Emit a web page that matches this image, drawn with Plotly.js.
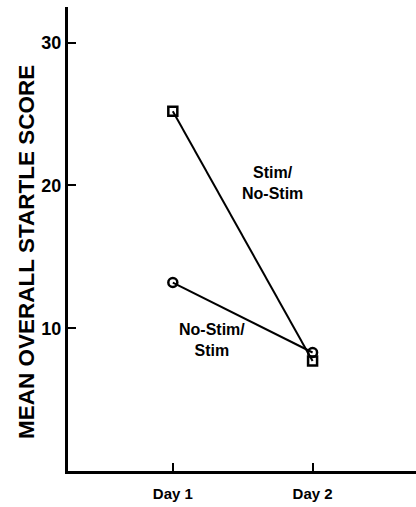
<!DOCTYPE html>
<html>
<head>
<meta charset="utf-8">
<script src="https://cdn.plot.ly/plotly-3.0.1.min.js"></script>
<style>
html,body{margin:0;padding:0;background:#fff;}
#chart{width:416px;height:507px;}
</style>
</head>
<body>
<div id="chart"></div>
<script>
// Data
const days = ["Day 1", "Day 2"];
const stimNoStim = [25.2, 7.7];   // squares
const noStimStim = [13.2, 8.3];   // circles
const yTickVals = [10, 20, 30];
const yTickText = ["10", "20", "30"];
const yTitle = "MEAN OVERALL STARTLE SCORE";
const groupLabels = ["Stim/<br>No-Stim", "No-Stim/<br>Stim"];

const FONT = "Liberation Sans, Arial, sans-serif";
const b = s => "<b>" + s + "</b>";

const traces = [
  {
    x: days, y: stimNoStim, type: "scatter", mode: "lines+markers",
    name: "Stim/No-Stim",
    line: {color: "#000", width: 2},
    marker: {symbol: "square-open", size: 9, color: "#000", line: {width: 2.5, color: "#000"}},
    cliponaxis: false
  },
  {
    x: days, y: noStimStim, type: "scatter", mode: "lines+markers",
    name: "No-Stim/Stim",
    line: {color: "#000", width: 2},
    marker: {symbol: "circle-open", size: 9, color: "#000", line: {width: 2.5, color: "#000"}},
    cliponaxis: false
  }
];

const layout = {
  width: 416, height: 507,
  margin: {l: 68, r: 0, t: 7, b: 36},
  paper_bgcolor: "#fff", plot_bgcolor: "#fff",
  showlegend: false,
  font: {family: FONT, color: "#000"},
  xaxis: {
    type: "category",
    categoryarray: days,
    tickvals: days, ticktext: days.map(b),
    range: [-0.75, 1.74],
    showgrid: false, zeroline: false,
    showline: true, linecolor: "#000", linewidth: 3,
    ticks: "inside", ticklen: 8, tickwidth: 2, tickcolor: "#000",
    tickfont: {family: FONT, size: 15, color: "#000"},
    ticklabelstandoff: 7
  },
  yaxis: {
    range: [0, 32.5],
    tickvals: yTickVals, ticktext: yTickText.map(b),
    showgrid: false, zeroline: false,
    showline: true, linecolor: "#000", linewidth: 3,
    ticks: "inside", ticklen: 8, tickwidth: 2, tickcolor: "#000",
    tickfont: {family: FONT, size: 18, color: "#000"},
    ticklabelstandoff: 0
  },
  annotations: [
    {x: -0.118, y: 0.472, xref: "paper", yref: "paper", text: b(yTitle), showarrow: false,
     textangle: -90, xanchor: "center", yanchor: "middle",
     font: {family: FONT, size: 22.5, color: "#000"}},
    {x: 0.71, y: 20.2, xref: "x", yref: "y", text: b(groupLabels[0]), showarrow: false,
     font: {family: FONT, size: 16, color: "#000"}, align: "center"},
    {x: 0.28, y: 9.2, xref: "x", yref: "y", text: b(groupLabels[1]), showarrow: false,
     font: {family: FONT, size: 16, color: "#000"}, align: "center"}
  ]
};

Plotly.newPlot("chart", traces, layout, {displayModeBar: false, staticPlot: true});
</script>
</body>
</html>
